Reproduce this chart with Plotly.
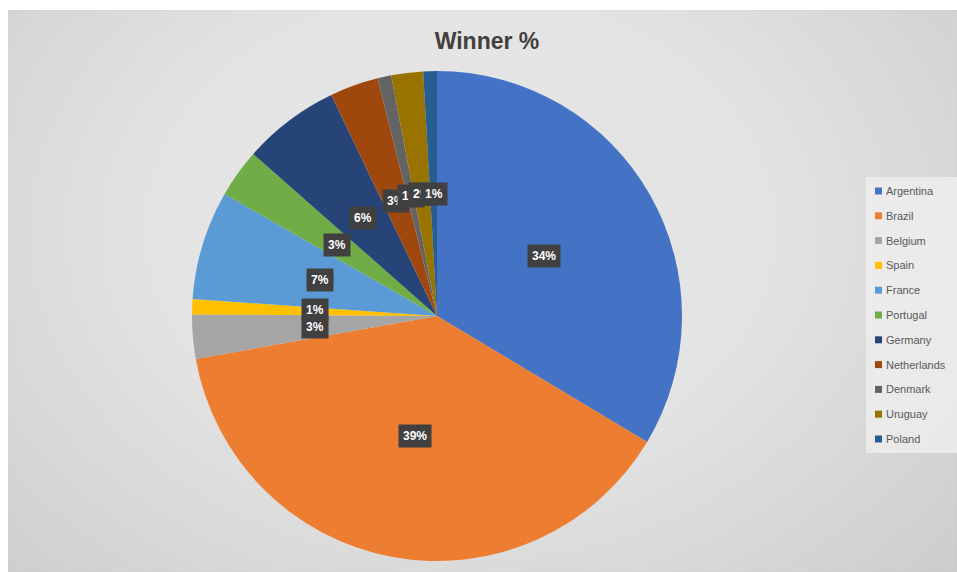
import math
import plotly.graph_objects as go

W, H = 957, 572

countries = ["Argentina", "Brazil", "Belgium", "Spain", "France", "Portugal",
             "Germany", "Netherlands", "Denmark", "Uruguay", "Poland"]
winner_pct = [33.6, 38.6, 2.9, 1.0, 7.2, 3.2, 6.4, 3.2, 0.9, 2.1, 0.9]
colors = ["#4472C4", "#ED7D31", "#A5A5A5", "#FFC000", "#5B9BD5", "#70AD47",
          "#264478", "#9E480E", "#636363", "#997300", "#255E91"]
title_text = "Winner %"

# pie geometry (paper domain)
dom_x = [192 / W, 682 / W]
dom_y = [1 - 561 / H, 1 - 71 / H]

fig = go.Figure()
fig.add_trace(go.Pie(
    labels=countries, values=winner_pct, sort=False, direction="clockwise",
    rotation=0, marker=dict(colors=colors, line=dict(width=0)),
    textinfo="none", hoverinfo="label+percent", showlegend=False,
    domain=dict(x=dom_x, y=dom_y),
))

shapes = []
# chart area background with radial-ish gradient
x0p, y0p = 8 / W, 1 - 10 / H
shapes.append(dict(type="rect", xref="paper", yref="paper", x0=x0p, x1=1, y0=0, y1=y0p,
                   fillcolor="#c6c6c6", line=dict(color="#bdbdbd", width=1), layer="below"))
gcx, gcy = 460, 230
n_layers = 45
for i in range(n_layers):
    r = 580 - i * 12.5
    rx, ry = r * 1.3, r
    shapes.append(dict(type="circle", xref="paper", yref="paper",
                       x0=(gcx - rx) / W, x1=(gcx + rx) / W,
                       y0=1 - (gcy + ry) / H, y1=1 - (gcy - ry) / H,
                       fillcolor="rgba(255,255,255,0.034)", line=dict(width=0), layer="below"))
# mask outside the chart frame (white margins top/left)
shapes.append(dict(type="rect", xref="paper", yref="paper", x0=0, x1=x0p, y0=0, y1=1,
                   fillcolor="white", line=dict(width=0), layer="below"))
shapes.append(dict(type="rect", xref="paper", yref="paper", x0=0, x1=1, y0=y0p, y1=1,
                   fillcolor="white", line=dict(width=0), layer="below"))

annotations = []
# data labels at half radius of each slice, from cumulative share
cx = (dom_x[0] + dom_x[1]) / 2 * W
cy = (1 - (dom_y[0] + dom_y[1]) / 2) * H
R = min((dom_x[1] - dom_x[0]) * W, (dom_y[1] - dom_y[0]) * H) / 2
total = sum(winner_pct)
cum = 0.0
label_pos = []
for name, v in zip(countries, winner_pct):
    mid = (cum + v / 2) / total
    cum += v
    th = 2 * math.pi * mid
    r = 0.5 * R
    label_pos.append([cx + r * math.sin(th), cy - r * math.cos(th)])

# simple vertical de-overlap for labels stacked almost on top of each other
min_gap = 17
for i in range(len(label_pos) - 1):
    a, b = label_pos[i], label_pos[i + 1]
    if abs(a[0] - b[0]) < 8 and abs(a[1] - b[1]) < min_gap:
        mid_y = (a[1] + b[1]) / 2
        sign = 1 if a[1] >= b[1] else -1
        a[1] = mid_y + sign * min_gap / 2
        b[1] = mid_y - sign * min_gap / 2

for v, (px, py) in zip(winner_pct, label_pos):
    annotations.append(dict(
        x=px / W, y=1 - py / H, xref="paper", yref="paper", showarrow=False,
        text=f"{round(100 * v / total)}%", bgcolor="#404040", borderpad=4,
        font=dict(family="Liberation Sans", size=12, color="white", weight="bold"),
        xanchor="center", yanchor="middle"))

# legend (manual, Excel style)
leg_top = 191
leg_step = 24.8
shapes.append(dict(type="rect", xref="paper", yref="paper",
                   x0=866 / W, x1=1, y0=1 - 453 / H, y1=1 - 177 / H,
                   fillcolor="rgba(240,240,240,0.75)", line=dict(width=0), layer="below"))
for i, (name, c) in enumerate(zip(countries, colors)):
    yc = leg_top + i * leg_step
    shapes.append(dict(type="rect", xref="paper", yref="paper",
                       x0=875 / W, x1=882 / W, y0=1 - (yc + 3.5) / H, y1=1 - (yc - 3.5) / H,
                       fillcolor=c, line=dict(width=0)))
    annotations.append(dict(
        x=884 / W, y=1 - yc / H, xref="paper", yref="paper", showarrow=False,
        text=name, xanchor="left", yanchor="middle",
        font=dict(family="Liberation Sans", size=11, color="#595959")))

fig.update_layout(
    width=W, height=H, margin=dict(l=0, r=0, t=0, b=0),
    paper_bgcolor="white", plot_bgcolor="white",
    title=dict(text=title_text, x=487 / W, xanchor="center", y=1 - 41 / H, yanchor="middle",
               font=dict(family="Liberation Sans", size=23, color="#404040", weight="bold")),
    shapes=shapes, annotations=annotations, showlegend=False,
)

fig.write_html("out.html", config={"displayModeBar": False},
               post_script="document.body.style.margin='0';")
